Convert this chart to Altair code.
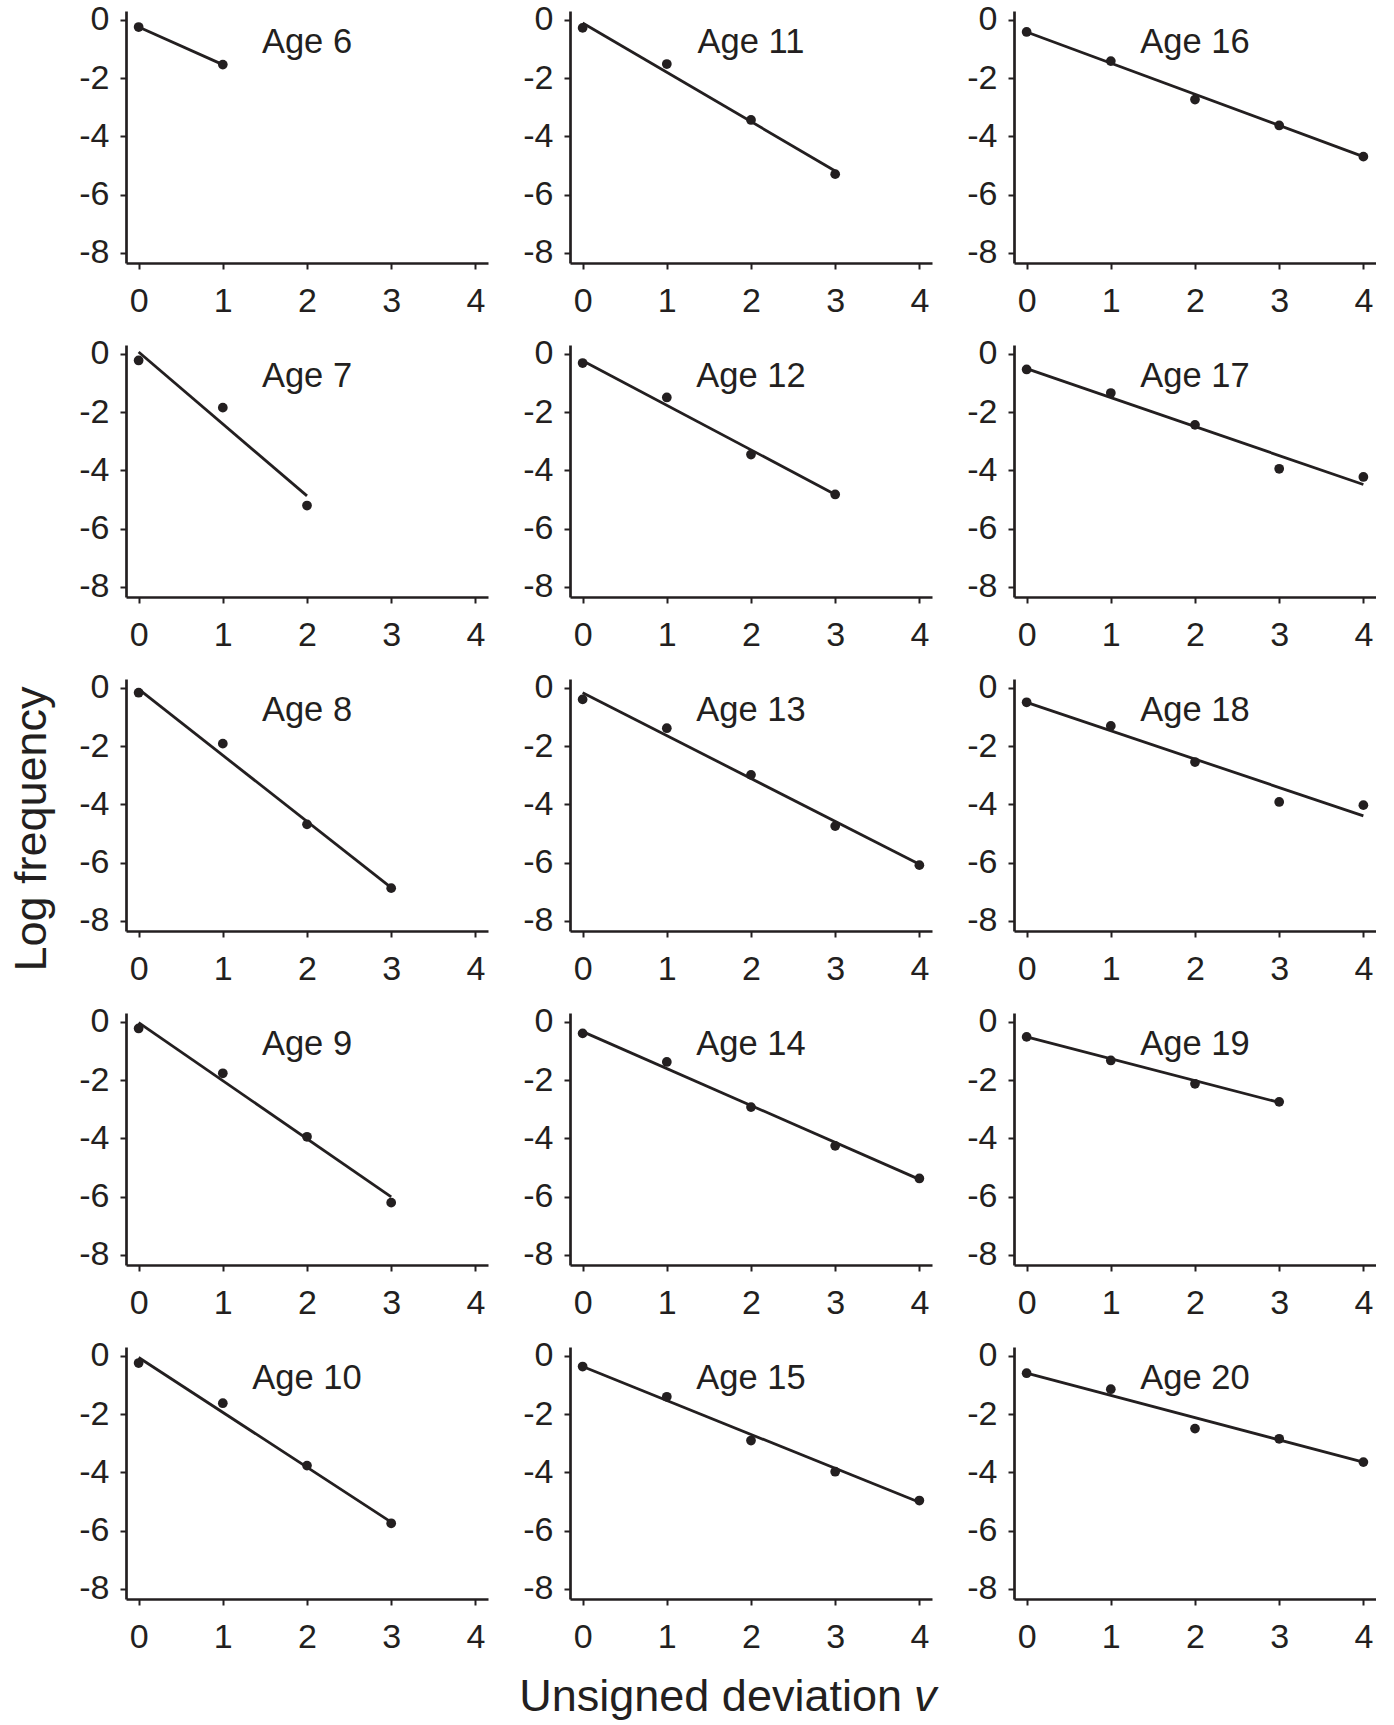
import altair as alt
import pandas as pd

INK = "#231f20"
FONT = "Liberation Sans"

ages = [6, 7, 8, 9, 10, 11, 12, 13, 14, 15, 16, 17, 18, 19, 20]

# observed log frequencies at v = 0, 1, 2, ...
freq_age6 = [-0.25, -1.54]
freq_age7 = [-0.23, -1.85, -5.21]
freq_age8 = [-0.17, -1.92, -4.69, -6.88]
freq_age9 = [-0.23, -1.77, -3.95, -6.21]
freq_age10 = [-0.25, -1.63, -3.77, -5.75]
freq_age11 = [-0.28, -1.52, -3.44, -5.30]
freq_age12 = [-0.32, -1.50, -3.46, -4.83]
freq_age13 = [-0.40, -1.39, -2.99, -4.75, -6.09]
freq_age14 = [-0.40, -1.38, -2.93, -4.26, -5.38]
freq_age15 = [-0.37, -1.41, -2.91, -3.98, -4.97]
freq_age16 = [-0.42, -1.42, -2.74, -3.63, -4.70]
freq_age17 = [-0.54, -1.35, -2.44, -3.95, -4.23]
freq_age18 = [-0.50, -1.31, -2.55, -3.92, -4.03]
freq_age19 = [-0.52, -1.33, -2.13, -2.75]
freq_age20 = [-0.60, -1.15, -2.50, -2.85, -3.65]

# fitted line: value at v = 0 and at the largest v
fit_start = [-0.25, 0.06, -0.05, -0.03, -0.06, -0.11, -0.24, -0.17, -0.34, -0.37,
             -0.42, -0.51, -0.50, -0.52, -0.60]
fit_end = [-1.54, -4.88, -6.86, -6.01, -5.71, -5.19, -4.83, -6.06, -5.41, -5.03,
           -4.70, -4.49, -4.40, -2.77, -3.65]

x_ticks = [0, 1, 2, 3, 4]
y_ticks = [0, -2, -4, -6, -8]

freqs = [freq_age6, freq_age7, freq_age8, freq_age9, freq_age10, freq_age11,
         freq_age12, freq_age13, freq_age14, freq_age15, freq_age16, freq_age17,
         freq_age18, freq_age19, freq_age20]

PW, PH = 362, 252
xscale = alt.Scale(domain=[-0.15, 4.15], nice=False, zero=False)
yscale = alt.Scale(domain=[-8.35, 0.3], nice=False, zero=False)

axis_common = dict(
    title=None, grid=False, labelFont=FONT, labelFontSize=34, labelColor=INK,
    domainColor=INK, domainWidth=2.7, tickColor=INK, tickWidth=2, tickSize=6,
    labelFlush=False, labelOverlap=False, labelBound=False,
)
xaxis = alt.Axis(values=x_ticks, labelPadding=15, format="d", **axis_common)
yaxis = alt.Axis(values=y_ticks, labelPadding=11, labelExpr="'' + datum.value", **axis_common)


def panel(i):
    age = ages[i]
    vals = freqs[i]
    n = len(vals)
    pts = pd.DataFrame({"v": list(range(n)), "f": vals})
    fit = pd.DataFrame({"v": [0, n - 1], "f": [fit_start[i], fit_end[i]]})
    lab = pd.DataFrame({"label": [f"Age {age}"]})

    line = alt.Chart(fit).mark_line(color=INK, strokeWidth=2.8).encode(
        x=alt.X("v:Q", scale=xscale, axis=xaxis),
        y=alt.Y("f:Q", scale=yscale, axis=yaxis),
    )
    dots = alt.Chart(pts).mark_circle(color=INK, size=95, opacity=1).encode(
        x=alt.X("v:Q", scale=xscale),
        y=alt.Y("f:Q", scale=yscale),
    )
    text = alt.Chart(lab).mark_text(
        font=FONT, fontSize=34.5, color=INK, align="center", baseline="alphabetic"
    ).encode(x=alt.datum(2), y=alt.datum(-1.15), text="label:N")
    return alt.layer(line, dots, text).properties(width=PW, height=PH)


order = []
for r in range(5):
    for c in range(3):
        order.append(c * 5 + r)

grid = alt.concat(*[panel(i) for i in order], columns=3, spacing=82, bounds="flush")

GW = 3 * PW + 2 * 82
GH = 5 * PH + 4 * 82

xtitle = alt.layer(
    alt.Chart(pd.DataFrame({"t": ["Unsigned deviation"]})).mark_text(
        font=FONT, fontSize=45, color=INK, align="right", baseline="alphabetic"
    ).encode(x=alt.value(776), y=alt.value(40), text="t:N"),
    alt.Chart(pd.DataFrame({"t": ["v"]})).mark_text(
        font=FONT, fontSize=45, color=INK, align="left", baseline="alphabetic",
        fontStyle="italic"
    ).encode(x=alt.value(788), y=alt.value(40), text="t:N"),
).properties(width=GW, height=50)

ytitle = alt.Chart(pd.DataFrame({"t": ["Log frequency"]})).mark_text(
    font=FONT, fontSize=45, color=INK, align="center", baseline="alphabetic", angle=270
).encode(x=alt.value(46), y=alt.value(818), text="t:N").properties(width=60, height=GH)

right = alt.vconcat(grid, xtitle, spacing=17, bounds="full")
chart = alt.hconcat(ytitle, right, spacing=18, bounds="full").properties(
    padding={"left": 0, "top": 2, "right": 0, "bottom": 0},
    background="white",
).configure_view(strokeWidth=0, stroke=None)

chart.save("out.html", embed_options={"renderer": "svg", "actions": False})
